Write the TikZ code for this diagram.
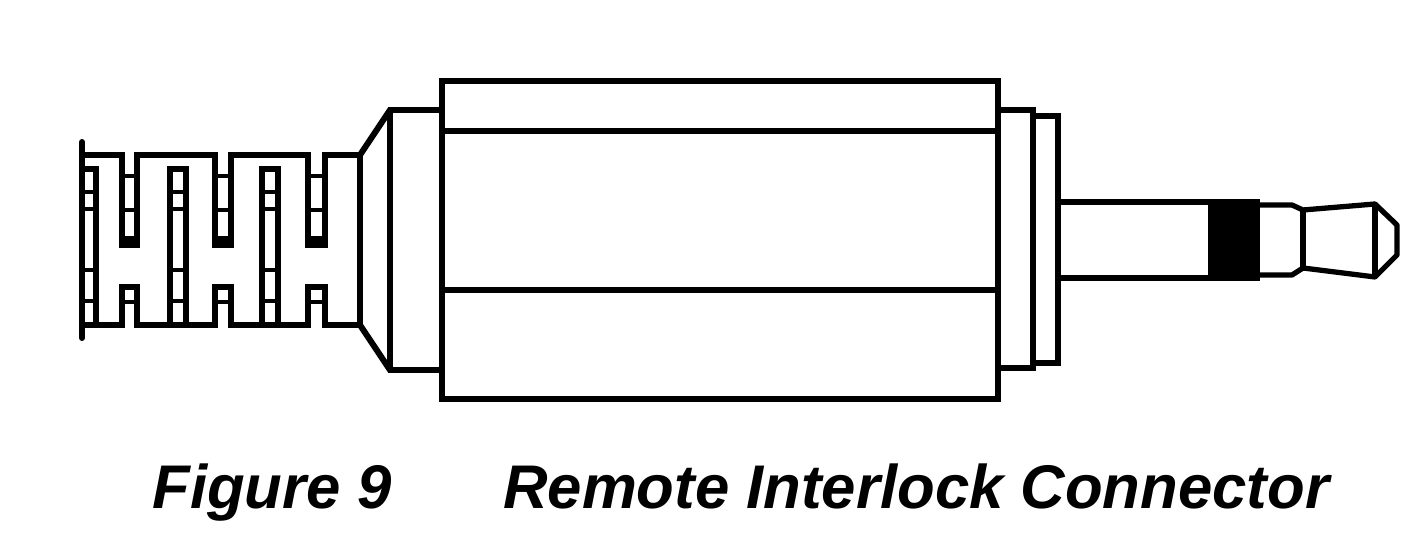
\documentclass[tikz,border=0pt]{standalone}
\usepackage{fontspec}
\setmainfont{Liberation Sans}
\usetikzlibrary{positioning}

\tikzset{
  wire/.style={line width=3.4pt, line join=miter},
  thin wire/.style={line width=3pt},
  rung/.style={line width=2.6pt},
  caption/.style={font=\fontsize{35.1pt}{36pt}\selectfont\bfseries\itshape, inner sep=0pt, anchor=base west},
}

\begin{document}
\begin{tikzpicture}[x=0.02cm, y=-0.02cm]
  \useasboundingbox (0,0) rectangle (1414,540);

  % strain relief
  \draw[wire, line cap=round] (82,142) -- (82,338);
  \draw[wire] (82,155) -- (122,155) -- (122,245) -- (137,245) -- (137,155)
    -- (215,155) -- (215,245) -- (231,245) -- (231,155)
    -- (308,155) -- (308,245) -- (325,245) -- (325,155) -- (360,155) -- (360,325)
    -- (325,325) -- (325,287) -- (308,287) -- (308,325)
    -- (231,325) -- (231,287) -- (215,287) -- (215,325)
    -- (137,325) -- (137,287) -- (122,287) -- (122,325) -- (82,325);
  \fill (122,236) rectangle (137,245);
  \fill (215,236) rectangle (231,245);
  \fill (308,236) rectangle (325,245);
  \draw[wire] (82,169) -- (96,169) -- (96,325);
  \foreach \xa/\xb in {170/186, 262/278} {
    \draw[wire] (\xa,325) -- (\xa,169) -- (\xb,169) -- (\xb,325);
    \foreach \y in {192, 209, 270, 301}
      \draw[rung] (\xa,\y) -- (\xb,\y);
  }
  \foreach \y in {192, 209, 270, 301}
    \draw[rung] (82,\y) -- (96,\y);
  \foreach \xa/\xb in {122/137, 215/231, 308/325} {
    \foreach \y in {176, 210, 302}
      \draw[rung] (\xa,\y) -- (\xb,\y);
  }

  % collar and barrel
  \draw[wire] (360,155) -- (390,110) -- (442,110);
  \draw[wire] (360,325) -- (390,370) -- (442,370);
  \draw[wire] (390,110) -- (390,370);
  \draw[wire] (442,81) rectangle (998,399);
  \draw[wire] (442,131) -- (998,131);
  \draw[wire] (442,290) -- (998,290);

  % flange
  \draw[wire] (998,110) -- (1033,110) -- (1033,368) -- (998,368);
  \draw[wire] (1033,116) -- (1058,116) -- (1058,363) -- (1033,363);

  % plug
  \draw[wire] (1058,202) -- (1210,202);
  \draw[wire] (1058,278) -- (1210,278);
  \fill (1208,199) rectangle (1260,281);
  \draw[thin wire, line join=round] (1260,205) -- (1292,205) -- (1303,210) -- (1375,204)
    -- (1397,225) -- (1397,255) -- (1375,277) -- (1303,268) -- (1292,275) -- (1260,275);
  \draw[thin wire] (1303,210) -- (1303,268);
  \draw[thin wire] (1375,204) -- (1375,277);

  \node[caption] (fig_no) at (152,509) {Figure 9};
  \node[caption] (fig_title) at (503,509) {Remote Interlock Connector};
\end{tikzpicture}
\end{document}
